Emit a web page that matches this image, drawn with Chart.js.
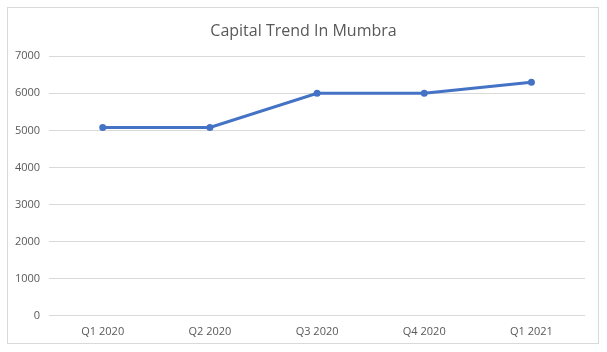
<!DOCTYPE html>
<html>
<head>
<meta charset="utf-8">
<script src="https://cdn.jsdelivr.net/npm/chart.js@4.4.1/dist/chart.umd.min.js"></script>
<style>
  html, body { margin: 0; padding: 0; background: #fff; }
  #frame {
    position: absolute; left: 7px; top: 7px;
    width: 592px; height: 337px;
    border: 1px solid #d9d9d9; box-sizing: border-box;
  }
  #wrap { position: absolute; left: 0; top: 0; width: 607px; height: 352px; }
</style>
</head>
<body>
<div id="frame"></div>
<div id="wrap"><canvas id="chart" width="607" height="352"></canvas></div>
<script>
const quarters = ['Q1 2020', 'Q2 2020', 'Q3 2020', 'Q4 2020', 'Q1 2021'];
const capital = [5080, 5080, 6000, 6000, 6300];
const yTicks = [0, 1000, 2000, 3000, 4000, 5000, 6000, 7000];

const textColor = '#595959';
const gridColor = '#d9d9d9';
const lineColor = '#4472c4';

// centre the title on the whole canvas, not on the padded box
const centerTitle = {
  id: 'centerTitle',
  afterLayout(c) {
    const t = c.titleBlock;
    if (t) { t.left = 0; t.right = c.width; t.width = c.width; }
  }
};

const ctx = document.getElementById('chart').getContext('2d');
const chart = new Chart(ctx, {
  type: 'line',
  data: {
    labels: quarters,
    datasets: [{
      label: 'Capital',
      data: capital,
      borderColor: lineColor,
      backgroundColor: lineColor,
      borderWidth: 3,
      tension: 0,
      fill: false,
      pointRadius: 3.5,
      pointBorderWidth: 0,
      pointBackgroundColor: lineColor,
      pointHoverRadius: 3.5
    }]
  },
  options: {
    responsive: false,
    animation: false,
    layout: { padding: { left: 6, right: 22, top: 14, bottom: 5 } },
    scales: {
      x: {
        offset: true,
        grid: { display: false, drawTicks: false },
        border: { display: false },
        ticks: {
          color: textColor,
          padding: 9,
          font: { family: 'Open Sans', size: 11 }
        }
      },
      y: {
        min: 0,
        max: 7000,
        afterBuildTicks: (axis) => { axis.ticks = yTicks.map(v => ({ value: v })); },
        grid: { color: gridColor, lineWidth: 1, drawTicks: false },
        border: { display: false },
        ticks: {
          color: textColor,
          padding: 9,
          font: { family: 'Open Sans', size: 11 },
          callback: (v) => String(v)
        }
      }
    },
    plugins: {
      legend: { display: false },
      tooltip: { enabled: false },
      title: {
        display: true,
        text: 'Capital Trend In Mumbra',
        color: textColor,
        font: { family: 'Open Sans', size: 16, weight: 'normal' },
        padding: { top: 8, bottom: 15 }
      }
    }
  },
  plugins: [centerTitle]
});
</script>
</body>
</html>
